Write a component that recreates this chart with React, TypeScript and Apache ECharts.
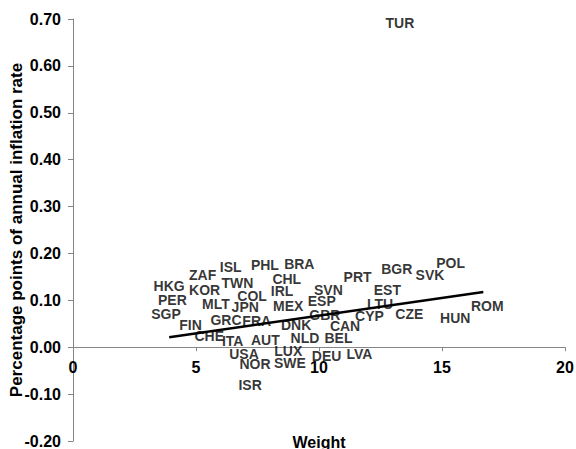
import React, { useEffect, useRef } from "react";
import * as echarts from "echarts";

const countries = [
  "HKG","ZAF","ISL","PHL","BRA","TWN","CHL","KOR","PER","COL","IRL","SVN","MLT","JPN","MEX","ESP",
  "SGP","GRC","FRA","DNK","GBR","FIN","CHE","ITA","AUT","NLD","BEL","CAN","CYP","LTU","EST","PRT",
  "BGR","SVK","POL","CZE","HUN","ROM","LVA","DEU","USA","LUX","NOR","SWE","ISR","TUR",
];
const weights = [
  3.91,5.27,6.41,7.80,9.20,6.68,8.69,5.35,4.04,7.28,8.50,10.38,5.81,7.00,8.75,10.11,
  3.78,6.22,7.47,9.07,10.24,4.78,5.54,6.49,7.82,9.43,10.79,11.06,12.05,12.48,12.78,11.57,
  13.16,14.51,15.35,13.67,15.54,16.84,11.64,10.31,6.95,8.75,7.40,8.82,7.20,13.29,
];
const contributions = [
  0.130,0.155,0.171,0.175,0.177,0.138,0.145,0.121,0.100,0.109,0.120,0.123,0.0915,0.085,0.0887,0.0985,
  0.070,0.057,0.056,0.048,0.0695,0.047,0.023,0.0128,0.015,0.019,0.020,0.0447,0.066,0.093,0.121,0.149,
  0.166,0.154,0.180,0.070,0.063,0.087,-0.015,-0.019,-0.0134,-0.008,-0.036,-0.033,-0.080,0.691,
];
const trendX = [3.91, 16.68];
const trendY = [0.0213, 0.1177];

const Y_MIN = -0.2;
const Y_MAX = 0.7;

const FONT = "Arial, 'Liberation Sans', sans-serif";

const W = 576;
const H = 449;
const GRID = { left: 73, right: 11, top: 19, bottom: 8 };

export default function App() {
  const ref = useRef<HTMLDivElement>(null);
  useEffect(() => {
    if (!ref.current) return;
    const chart = echarts.init(ref.current, null, { renderer: "svg" });
    const axisColor = "#868686";
    const gridH = H - GRID.top - GRID.bottom;
    const zeroFromBottom = ((0 - Y_MIN) / (Y_MAX - Y_MIN)) * gridH;
    chart.setOption({
      animation: false,
      textStyle: { fontFamily: FONT },
      grid: { ...GRID, containLabel: false, outerBoundsMode: "none" },
      xAxis: {
        type: "value",
        min: 0,
        max: 20,
        interval: 5,
        offset: -zeroFromBottom,
        axisLine: { onZero: false, lineStyle: { color: axisColor, width: 1 } },
        axisTick: { show: true, length: 4, lineStyle: { color: axisColor } },
        axisLabel: { margin: 12, fontSize: 16, fontWeight: "bold", color: "#000", fontFamily: FONT },
        splitLine: { show: false },
      },
      yAxis: {
        type: "value",
        min: Y_MIN,
        max: Y_MAX,
        interval: 0.1,
        axisLine: { show: true, onZero: false, lineStyle: { color: axisColor, width: 1 } },
        axisTick: { show: true, length: 5, lineStyle: { color: axisColor } },
        axisLabel: {
          margin: 12,
          fontSize: 16,
          fontWeight: "bold",
          color: "#000",
          fontFamily: FONT,
          formatter: (v: number) => v.toFixed(2),
        },
        splitLine: { show: false },
        name: "Percentage points of annual inflation rate",
        nameLocation: "middle",
        nameGap: 48,
        nameMoveOverlap: false,
        nameTextStyle: { fontSize: 17, fontWeight: "bold", color: "#000", fontFamily: FONT },
      },
      graphic: [
        {
          type: "text",
          x: 319,
          y: 442,
          style: {
            text: "Weight",
            fontSize: 16,
            fontWeight: "bold",
            fill: "#000",
            fontFamily: FONT,
            align: "center",
            verticalAlign: "middle",
          },
        },
      ],
      series: [
        {
          type: "line",
          data: trendX.map((x, i) => [x, trendY[i]]),
          symbol: "none",
          lineStyle: { color: "#000", width: 2.5 },
          z: 3,
        },
        {
          type: "scatter",
          data: countries.map((c, i) => ({ name: c, value: [weights[i], contributions[i]] })),
          symbolSize: 1,
          itemStyle: { color: "rgba(0,0,0,0)" },
          label: {
            show: true,
            position: "inside",
            formatter: (p: any) => p.name,
            fontSize: 14,
            fontWeight: "bold",
            color: "#000",
            fontFamily: FONT,
          },
          z: 4,
        },
      ],
    });
    return () => chart.dispose();
  }, []);
  return (
    <div
      ref={ref}
      style={{ position: "absolute", left: 0, top: 0, width: W, height: H }}
    />
  );
}
